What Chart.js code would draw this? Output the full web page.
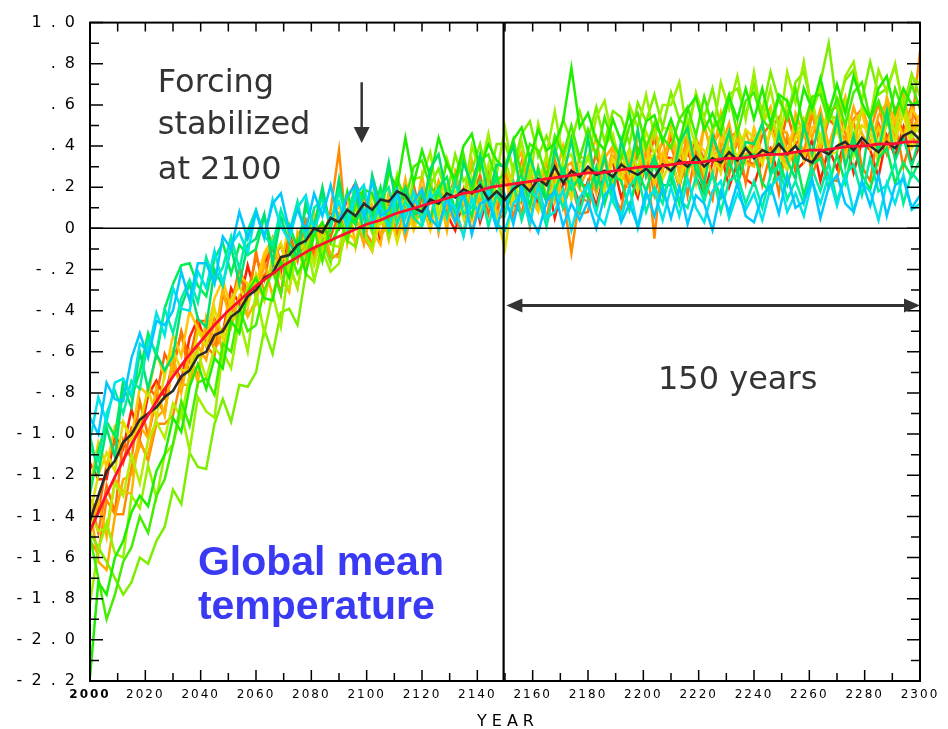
<!DOCTYPE html>
<html>
<head>
<meta charset="utf-8">
<script src="https://cdn.jsdelivr.net/npm/chart.js@4.4.1/dist/chart.umd.min.js"></script>
<style>
  html, body { margin: 0; padding: 0; background: #fff; }
  canvas { display: block; }
</style>
</head>
<body>
<canvas id="chart" width="948" height="729"></canvas>
<script>
// model years, every 3 years from 2000 to 2300 (101 values)
const years = [];
for (let y = 2000; y <= 2300; y += 3) years.push(y);

// smooth fit (red), every 5 years
const fitYears = [2000,2005,2010,2015,2020,2025,2030,2035,2040,2045,
                  2050,2055,2060,2065,2070,2075,2080,2085,2090,2095,
                  2100,2105,2110,2115,2120,2125,2130,2135,2140,2145,
                  2150,2155,2160,2165,2170,2175,2180,2185,2190,2195,
                  2200,2205,2210,2215,2220,2225,2230,2235,2240,2245,
                  2250,2255,2260,2265,2270,2275,2280,2285,2290,2295,2300];
const fitCurve = [-1.47,-1.32,-1.18,-1.05,-0.93,-0.82,-0.72,-0.63,-0.55,-0.47,
                  -0.40,-0.34,-0.28,-0.23,-0.18,-0.14,-0.10,-0.07,-0.04,-0.01,
                  0.02,0.04,0.07,0.09,0.11,0.13,0.15,0.17,0.18,0.20,
                  0.21,0.22,0.23,0.24,0.25,0.26,0.27,0.27,0.28,0.29,
                  0.30,0.30,0.31,0.32,0.32,0.33,0.34,0.34,0.35,0.36,
                  0.36,0.37,0.38,0.38,0.39,0.40,0.40,0.41,0.41,0.42,0.42];

// ensemble mean (black)
const ensembleMean = [-1.42,-1.30,-1.18,-1.13,-1.04,-1.00,-0.93,-0.90,-0.87,-0.82,
                      -0.79,-0.72,-0.69,-0.62,-0.60,-0.52,-0.50,-0.43,-0.40,-0.33,
                      -0.30,-0.24,-0.22,-0.14,-0.13,-0.08,-0.06,0.00,-0.02,0.05,
                      0.03,0.09,0.06,0.12,0.09,0.14,0.13,0.18,0.16,0.10,
                      0.08,0.14,0.12,0.17,0.15,0.19,0.17,0.21,0.14,0.18,
                      0.14,0.19,0.22,0.18,0.24,0.21,0.30,0.22,0.28,0.25,
                      0.30,0.26,0.28,0.25,0.31,0.28,0.26,0.29,0.25,0.31,
                      0.28,0.33,0.30,0.35,0.30,0.34,0.32,0.37,0.33,0.39,
                      0.34,0.38,0.36,0.41,0.36,0.40,0.34,0.32,0.38,0.36,
                      0.40,0.42,0.38,0.44,0.40,0.37,0.42,0.39,0.45,0.47,
                      0.43];

// individual runs
const run1 = [-0.92,-1.00,-0.75,-0.83,-0.84,-0.63,-0.51,-0.63,-0.45,-0.47,
              -0.40,-0.21,-0.35,-0.17,-0.17,-0.27,-0.04,-0.10,0.08,-0.05,
              0.08,-0.04,0.12,0.17,-0.01,0.09,-0.01,0.17,0.06,0.21,
              0.03,0.16,0.21,0.05,0.23,0.06,0.09,0.19,-0.01,0.13,
              0.19,0.05,0.00,0.15,0.03,0.17,-0.03,0.12,0.14,0.00,
              0.16,0.02,0.20,0.06,-0.02,0.13,0.18,0.01,0.12,0.04,
              0.13,0.00,0.16,0.21,0.03,0.12,0.01,0.18,0.06,0.20,
              0.05,0.20,0.02,0.16,0.12,-0.01,0.18,0.08,0.22,0.06,
              0.03,0.16,0.21,0.07,0.26,0.10,0.13,0.24,0.05,0.20,
              0.26,0.12,0.08,0.23,0.11,0.26,0.06,0.21,0.24,0.10,
              0.16];
const run2 = [-1.03,-0.82,-0.94,-0.75,-0.73,-0.81,-0.56,-0.60,-0.41,-0.52,
              -0.29,-0.39,-0.40,-0.21,-0.29,-0.11,-0.27,-0.08,-0.02,-0.12,
              0.08,-0.05,0.14,0.01,-0.06,0.10,0.16,-0.01,0.11,0.04,
              0.13,0.00,0.16,0.21,0.02,0.11,0.00,0.17,0.05,0.18,
              0.03,0.18,0.00,0.14,0.10,-0.04,0.15,0.05,0.19,0.02,
              -0.01,0.12,0.17,0.02,0.21,0.05,0.08,0.19,-0.01,0.15,
              0.21,0.07,0.02,0.17,0.06,0.20,0.00,0.15,0.18,0.04,
              0.20,0.06,0.24,0.10,0.03,0.18,0.23,0.05,0.17,0.09,
              0.17,0.04,0.20,0.25,0.08,0.17,0.06,0.23,0.12,0.26,
              0.11,0.26,0.08,0.22,0.18,0.04,0.22,0.12,0.26,0.09,
              0.12];
const run3 = [-1.07,-1.13,-0.90,-0.79,-0.90,-0.74,-0.78,-0.54,-0.60,-0.39,
              -0.51,-0.34,-0.25,-0.36,-0.14,-0.26,-0.19,-0.04,-0.20,-0.01,
              0.09,-0.04,-0.08,0.09,-0.02,0.13,-0.06,0.10,0.14,0.01,
              0.18,0.04,0.22,0.08,0.00,0.15,0.20,0.02,0.13,0.05,
              0.01,0.14,0.19,0.05,0.23,0.07,0.10,0.21,0.01,0.17,
              0.07,0.22,0.04,0.18,0.15,0.01,0.20,0.10,0.24,0.08,
              0.22,0.08,0.26,0.13,0.05,0.20,0.26,0.08,0.20,0.12,
              0.28,0.14,0.10,0.25,0.13,0.27,0.08,0.23,0.26,0.12,
              0.23,0.10,0.26,0.31,0.14,0.23,0.12,0.29,0.18,0.32,
              0.13,0.26,0.31,0.16,0.34,0.18,0.21,0.32,0.12,0.27,
              0.22];
const run4 = [-1.29,-1.08,-0.94,-1.01,-0.74,-0.82,-0.70,-0.51,-0.62,-0.39,
              -0.27,-0.18,-0.17,-0.28,-0.33,-0.15,-0.07,-0.22,-0.08,-0.13,
              -0.10,0.06,-0.10,0.05,0.02,-0.10,0.10,0.01,0.17,0.01,
              0.19,0.06,0.02,0.17,0.06,0.20,0.00,0.16,0.19,0.06,
              0.17,0.04,0.20,0.25,0.08,0.17,0.06,0.23,0.12,0.26,
              0.07,0.20,0.26,0.11,0.29,0.14,0.18,0.29,0.19,0.25,
              0.15,0.30,0.12,0.26,0.23,0.09,0.28,0.18,0.32,0.16,
              0.25,0.12,0.29,0.34,0.17,0.26,0.15,0.33,0.21,0.35,
              0.36,0.22,0.17,0.33,0.21,0.35,0.16,0.31,0.34,0.20,
              0.36,0.22,0.40,0.26,0.19,0.34,0.39,0.22,0.32,0.25,
              0.33];
const run5 = [-2.18,-1.72,-1.78,-1.60,-1.52,-1.38,-1.30,-1.35,-1.18,-1.10,
              -0.92,-0.99,-0.77,-0.66,-0.78,-0.63,-0.68,-0.45,-0.51,-0.31,
              -0.24,-0.34,-0.35,-0.16,-0.24,-0.06,-0.22,-0.03,0.03,-0.07,
              0.00,0.18,0.02,0.19,0.17,0.06,0.27,0.20,0.44,0.22,
              0.38,0.25,0.44,0.31,0.24,0.40,0.46,0.29,0.41,0.33,
              0.29,0.43,0.49,0.34,0.48,0.38,0.41,0.52,0.78,0.49,
              0.56,0.43,0.38,0.53,0.42,0.56,0.35,0.52,0.55,0.42,
              0.53,0.41,0.58,0.64,0.48,0.56,0.46,0.64,0.53,0.68,
              0.53,0.68,0.51,0.65,0.62,0.48,0.68,0.58,0.73,0.56,
              0.70,0.56,0.74,0.61,0.53,0.68,0.74,0.56,0.68,0.60,
              0.62];
const run6 = [-1.50,-1.70,-1.90,-1.78,-1.62,-1.55,-1.40,-1.48,-1.30,-1.22,
              -1.05,-0.84,-0.96,-0.75,-0.73,-0.81,-0.56,-0.60,-0.39,-0.50,
              -0.47,-0.30,-0.21,-0.32,-0.10,-0.22,-0.15,0.00,-0.16,0.03,
              0.05,-0.06,0.12,0.19,0.03,0.14,0.05,0.24,0.14,0.30,
              0.33,0.20,0.16,0.32,0.21,0.36,0.17,0.33,0.36,0.23,
              0.27,0.43,0.26,0.41,0.38,0.25,0.45,0.36,0.50,0.34,
              0.48,0.35,0.54,0.41,0.34,0.50,0.56,0.39,0.51,0.44,
              0.39,0.53,0.59,0.45,0.64,0.49,0.53,0.65,0.46,0.62,
              0.66,0.53,0.48,0.64,0.53,0.68,0.48,0.64,0.65,0.52,
              0.63,0.50,0.66,0.71,0.53,0.62,0.51,0.68,0.56,0.70,
              0.58];
const run7 = [-1.48,-1.55,-1.62,-1.70,-1.78,-1.72,-1.60,-1.63,-1.52,-1.45,
              -1.27,-1.34,-1.09,-1.16,-1.17,-0.95,-0.83,-0.94,-0.76,-0.77,
              -0.70,-0.49,-0.61,-0.41,-0.39,-0.47,-0.22,-0.26,-0.06,-0.17,
              0.06,-0.06,-0.09,0.08,-0.02,0.14,-0.04,0.13,0.17,0.05,
              0.06,0.21,0.29,0.16,0.36,0.23,0.28,0.41,0.23,0.41,
              0.41,0.29,0.46,0.52,0.35,0.45,0.35,0.53,0.42,0.57,
              0.43,0.59,0.42,0.57,0.54,0.41,0.61,0.52,0.65,0.49,
              0.66,0.53,0.49,0.65,0.54,0.68,0.49,0.65,0.68,0.55,
              0.70,0.57,0.76,0.62,0.55,0.71,0.76,0.59,0.71,0.90,
              0.59,0.72,0.77,0.62,0.81,0.65,0.68,0.79,0.59,0.75,
              0.64];
const run8 = [-1.39,-1.47,-1.46,-1.24,-1.30,-1.10,-1.24,-1.03,-0.94,-1.02,
              -0.85,-0.92,-0.71,-0.60,-0.73,-0.58,-0.63,-0.41,-0.47,-0.28,
              -0.24,-0.35,-0.14,-0.24,-0.29,-0.11,-0.03,-0.18,-0.03,-0.08,
              -0.09,0.05,0.11,-0.02,0.17,0.02,0.06,0.18,-0.01,0.16,
              0.07,0.23,0.06,0.21,0.18,0.05,0.25,0.16,0.31,0.15,
              0.33,0.20,0.16,0.32,0.21,0.36,0.17,0.33,0.36,0.23,
              0.35,0.23,0.40,0.46,0.29,0.39,0.29,0.47,0.36,0.49,
              0.48,0.35,0.53,0.40,0.32,0.48,0.54,0.37,0.48,0.40,
              0.37,0.51,0.57,0.43,0.62,0.47,0.51,0.63,0.43,0.59,
              0.47,0.62,0.44,0.58,0.54,0.40,0.57,0.47,0.61,0.44,
              0.50];
const run9 = [-1.39,-1.20,-1.09,-1.18,-0.94,-1.04,-0.95,-0.78,-0.92,-0.71,
              -0.59,-0.69,-0.69,-0.50,-0.57,-0.39,-0.54,-0.35,-0.28,-0.38,
              -0.22,-0.33,-0.14,-0.07,-0.23,-0.11,-0.20,-0.01,-0.11,0.06,
              0.06,-0.07,0.12,-0.02,-0.11,0.05,0.10,-0.07,0.08,0.00,
              0.01,0.17,-0.01,0.14,0.10,-0.03,0.17,0.08,0.22,0.06,
              -0.10,0.17,0.23,0.10,0.30,0.16,0.20,0.32,0.14,0.30,
              0.35,0.22,0.18,0.34,0.23,0.37,0.18,0.33,0.36,0.24,
              0.33,0.21,0.38,0.44,0.27,0.37,0.27,0.45,0.34,0.48,
              0.44,0.31,0.49,0.36,0.28,0.44,0.50,0.33,0.44,0.36,
              0.37,0.52,0.35,0.50,0.47,0.32,0.52,0.42,0.56,0.39,
              0.46];
const run10 = [-1.25,-1.04,-1.16,-0.96,-0.94,-1.02,-0.77,-0.81,-0.61,-0.72,
               -0.52,-0.62,-0.40,-0.49,-0.53,-0.34,-0.25,-0.39,-0.23,-0.27,
               -0.27,-0.12,-0.05,-0.18,0.02,-0.12,-0.07,0.06,-0.12,0.03,
               0.11,-0.02,-0.06,0.09,-0.02,0.13,-0.06,0.10,0.13,-0.01,
               0.11,-0.01,0.16,0.21,0.04,0.14,0.04,0.22,0.11,0.25,
               0.24,0.11,0.30,0.16,0.08,0.24,0.30,0.13,0.26,0.19,
               0.15,0.29,0.35,0.21,0.40,0.25,0.29,0.41,0.21,0.37,
               0.27,0.43,0.26,0.41,0.38,0.25,0.45,0.36,0.50,0.32,
               0.49,0.36,0.32,0.48,0.37,0.52,0.33,0.49,0.52,0.39,
               0.48,0.35,0.52,0.57,0.39,0.49,0.38,0.56,0.44,0.58,
               0.52];
const run11 = [-1.35,-1.62,-1.66,-1.40,-1.22,-1.20,-1.05,-1.10,-0.92,-0.88,
               -0.67,-0.76,-0.76,-0.57,-0.64,-0.45,-0.60,-0.40,-0.34,-0.43,
               -0.35,-0.17,-0.33,-0.16,-0.18,-0.29,-0.08,-0.15,0.01,-0.13,
               -0.14,0.00,0.06,-0.08,0.11,-0.03,0.01,0.13,-0.05,0.11,
               0.18,0.05,0.23,0.10,0.03,0.18,0.24,0.07,0.19,0.12,
               0.29,0.16,0.12,0.28,0.17,0.32,0.13,0.29,0.32,0.20,
               0.29,0.17,0.34,0.40,0.23,0.33,0.23,0.41,0.30,0.43,
               0.25,0.39,0.45,0.31,0.50,0.35,0.39,0.51,0.31,0.47,
               0.35,0.51,0.34,0.49,0.46,0.33,0.53,0.44,0.58,0.40,
               0.54,0.41,0.59,0.46,0.39,0.55,0.61,0.44,0.56,0.48,
               0.55];
const run12 = [-1.52,-1.58,-1.32,-1.39,-1.39,-1.16,-1.03,-1.13,-0.95,-0.95,
               -0.91,-0.73,-0.62,-0.72,-0.48,-0.59,-0.51,-0.34,-0.49,-0.28,
               -0.25,-0.35,-0.16,-0.08,-0.23,-0.11,-0.19,0.01,-0.08,0.09,
               0.38,-0.07,0.11,-0.01,-0.07,0.08,0.13,-0.03,0.10,0.02,
               0.19,0.05,0.01,0.16,0.04,0.19,-0.02,0.15,0.18,0.04,
               0.07,0.23,0.06,0.21,0.18,0.05,0.25,0.16,-0.12,0.15,
               0.13,0.27,0.33,0.18,0.38,0.23,0.27,0.39,-0.05,0.35,
               0.40,0.27,0.46,0.33,0.25,0.41,0.47,0.30,0.42,0.35,
               0.43,0.31,0.48,0.54,0.37,0.47,0.37,0.55,0.44,0.57,
               0.59,0.46,0.42,0.58,0.47,0.61,0.41,0.57,0.62,0.50,
               0.86];
const run13 = [-1.32,-1.38,-1.15,-1.03,-1.14,-0.97,-1.01,-0.77,-0.82,-0.61,
               -0.69,-0.50,-0.64,-0.45,-0.45,-0.55,-0.32,-0.38,-0.19,-0.32,
               -0.14,-0.25,-0.05,-0.16,-0.22,-0.04,0.04,-0.12,0.02,-0.04,
               0.07,-0.02,0.11,0.17,0.00,0.11,0.01,0.19,0.08,0.21,
               0.03,0.16,0.22,0.08,0.27,0.11,0.15,0.26,0.07,0.23,
               0.26,0.13,0.32,0.18,0.10,0.26,0.32,0.15,0.28,0.21,
               0.21,0.37,0.20,0.35,0.32,0.19,0.39,0.30,0.44,0.28,
               0.45,0.32,0.28,0.44,0.33,0.48,0.28,0.44,0.47,0.33,
               0.31,0.45,0.51,0.37,0.56,0.41,0.45,0.57,0.37,0.53,
               0.49,0.36,0.53,0.58,0.41,0.51,0.40,0.58,0.46,0.60,
               0.46];
const run14 = [-1.14,-1.22,-1.22,-1.01,-1.07,-0.88,-1.02,-0.81,-0.74,-0.82,
               -0.65,-0.74,-0.53,-0.44,-0.57,-0.44,-0.51,-0.29,-0.37,-0.18,
               -0.33,-0.17,-0.09,-0.21,0.00,-0.13,-0.07,0.07,-0.10,0.07,
               0.00,0.15,0.22,0.12,0.08,-0.06,0.13,0.04,0.19,0.02,
               0.16,0.03,0.21,0.07,-0.01,0.14,0.20,0.03,0.16,0.08,
               0.25,0.12,0.07,0.23,0.12,0.26,0.05,0.21,0.24,0.11,
               0.23,0.11,0.27,0.32,0.15,0.25,0.15,0.33,0.22,0.35,
               0.34,0.20,0.38,0.25,0.17,0.32,0.37,0.20,0.32,0.24,
               0.21,0.34,0.39,0.25,0.44,0.28,0.32,0.43,0.23,0.39,
               0.29,0.44,0.27,0.42,0.38,0.25,0.45,0.35,0.49,0.32,
               0.40];
const run15 = [-1.01,-1.19,-0.97,-1.11,-0.77,-0.87,-0.60,-0.78,-0.61,-0.69,
               -0.62,-0.38,-0.27,-0.44,-0.48,-0.20,-0.28,-0.09,-0.27,-0.08,
               -0.05,0.07,-0.17,0.05,-0.07,-0.14,0.13,0.01,0.20,0.00,
               0.24,0.01,0.17,-0.02,0.26,0.11,0.32,0.09,0.20,0.07,
               0.08,0.29,0.36,0.16,0.08,0.32,0.21,0.36,0.15,0.31,
               0.30,0.40,0.15,0.35,0.22,0.13,0.39,0.25,0.43,0.21,
               0.44,0.20,0.35,0.16,0.43,0.28,0.48,0.25,0.35,0.21,
               0.21,0.41,0.49,0.28,0.21,0.45,0.34,0.47,0.26,0.42,
               0.41,0.51,0.26,0.46,0.33,0.24,0.50,0.36,0.54,0.32,
               0.54,0.30,0.45,0.25,0.53,0.37,0.57,0.33,0.44,0.30,
               0.45];
const run16 = [-1.82,-1.56,-1.43,-1.58,-1.60,-1.30,-1.36,-1.15,-1.31,-1.10,
               -1.05,-0.89,-1.08,-0.82,-0.89,-0.92,-0.60,-0.68,-0.44,-0.60,
               -0.31,-0.51,-0.32,-0.48,-0.17,-0.29,-0.05,-0.25,-0.11,-0.21,
               -0.17,0.05,0.15,-0.03,-0.09,0.18,0.08,0.26,0.06,0.24,
               0.25,0.37,0.12,0.34,0.21,0.14,0.40,0.28,0.46,0.26,
               0.49,0.26,0.42,0.23,0.51,0.36,0.57,0.34,0.45,0.32,
               0.33,0.54,0.62,0.42,0.35,0.60,0.49,0.65,0.44,0.60,
               0.60,0.71,0.45,0.66,0.53,0.45,0.71,0.58,0.74,0.53,
               0.76,0.52,0.68,0.48,0.76,0.61,0.81,0.57,0.68,0.54,
               0.54,0.74,0.81,0.60,0.53,0.77,0.66,0.80,0.58,0.74,
               0.70];
const run17 = [-1.50,-1.32,-1.50,-1.22,-1.28,-1.29,-0.96,-1.02,-0.77,-0.91,
               -0.61,-0.80,-0.60,-0.75,-0.43,-0.54,-0.29,-0.48,-0.33,-0.42,
               -0.37,-0.15,-0.05,-0.24,-0.31,-0.02,-0.12,0.07,-0.13,0.04,
               0.05,0.16,-0.09,0.12,-0.01,-0.08,0.18,0.05,0.24,0.03,
               0.26,0.03,0.19,-0.01,0.27,0.12,0.33,0.10,0.21,0.08,
               0.08,0.29,0.37,0.17,0.10,0.35,0.24,0.40,0.19,0.35,
               0.33,0.44,0.19,0.40,0.27,0.19,0.45,0.32,0.50,0.29,
               0.49,0.26,0.42,0.22,0.50,0.35,0.56,0.33,0.44,0.32,
               0.30,0.51,0.59,0.38,0.31,0.56,0.45,0.60,0.39,0.55,
               0.53,0.64,0.38,0.59,0.46,0.38,0.64,0.51,0.66,0.44,
               0.55];
const run18 = [-1.31,-1.48,-1.25,-1.38,-1.03,-1.12,-0.84,-1.01,-0.83,-0.90,
               -0.65,-0.51,-0.72,-0.48,-0.57,-0.62,-0.32,-0.42,-0.20,-0.38,
               -0.11,-0.33,-0.15,-0.32,-0.04,-0.16,0.03,-0.15,0.00,-0.15,
               -0.12,0.09,0.17,-0.04,-0.11,0.14,0.03,0.17,-0.03,0.13,
               0.13,0.24,-0.02,0.18,0.05,-0.03,0.23,0.09,0.27,0.05,
               0.28,0.05,0.21,0.01,0.29,0.13,0.34,0.10,0.22,0.07,
               0.08,0.29,0.37,0.16,0.09,0.33,0.22,0.38,0.16,0.31,
               0.31,0.42,0.16,0.37,0.23,0.14,0.40,0.26,0.44,0.22,
               0.44,0.21,0.37,0.17,0.45,0.29,0.49,0.26,0.37,0.24,
               0.23,0.44,0.52,0.30,0.23,0.48,0.36,0.51,0.30,0.45,
               0.38];

const ensemble = [run1, run2, run3, run15, run4, run5, run6, run16, run7,
                  run8, run9, run10, run17, run11, run12, run18, run13, run14];
const runColors = ['#00c8ff','#00e4e8','#00eea0','#00e070','#00ee55','#20ee00','#44ee00','#99f000','#7cee00',
                   '#b4ee00','#e0e000','#ffc800','#ffb400','#ffa800','#ff8c00','#ff7800','#ff6400','#ff2000'];

// axis ticks
const xTicks = [2000,2020,2040,2060,2080,2100,2120,2140,2160,2180,2200,2220,2240,2260,2280,2300];
const yTicks = [1.0,0.8,0.6,0.4,0.2,0,-0.2,-0.4,-0.6,-0.8,-1.0,-1.2,-1.4,-1.6,-1.8,-2.0,-2.2];
const yTickLabels = ['1 . 0','. 8','. 6','. 4','. 2','0','- . 2','- . 4','- . 6','- . 8',
                     '- 1 . 0','- 1 . 2','- 1 . 4','- 1 . 6','- 1 . 8','- 2 . 0','- 2 . 2'];

const toXY = (xs, arr) => arr.map((v, i) => ({ x: xs[i], y: v }));

const datasets = [
  { data: toXY(fitYears, fitCurve), borderColor: '#ff1030', borderWidth: 2.8 },
  { data: toXY(years, ensembleMean), borderColor: '#2b2b2b', borderWidth: 2.6 }
];
ensemble.forEach((run, i) => {
  datasets.push({ data: toXY(years, run), borderColor: runColors[i], borderWidth: 2.5 });
});
datasets.forEach(d => { d.pointRadius = 0; d.tension = 0; d.fill = false; });

function arrowHead(ctx, tipX, tipY, dx, dy, len, half) {
  // dx,dy: unit direction of the arrow
  const bx = tipX - dx * len, by = tipY - dy * len;
  ctx.beginPath();
  ctx.moveTo(tipX, tipY);
  ctx.lineTo(bx - dy * half, by + dx * half);
  ctx.lineTo(bx + dy * half, by - dx * half);
  ctx.closePath();
  ctx.fill();
}

// frame, inner ticks, reference lines and text
const overlay = {
  id: 'overlay',
  beforeDraw(chart) { chart.ctx.letterSpacing = '2px'; },
  beforeDatasetsDraw(chart) { chart.ctx.letterSpacing = '0px'; },
  afterDatasetsDraw(chart) {
    const ctx = chart.ctx;
    const { left, right, top, bottom } = chart.chartArea;
    const xs = chart.scales.x, ys = chart.scales.y;
    ctx.save();
    ctx.letterSpacing = '0px';
    ctx.strokeStyle = '#000';

    // zero line
    ctx.lineWidth = 1.5;
    ctx.beginPath();
    ctx.moveTo(left, ys.getPixelForValue(0));
    ctx.lineTo(right, ys.getPixelForValue(0));
    ctx.stroke();

    // 2150 line
    ctx.lineWidth = 2.2;
    const x2150 = xs.getPixelForValue(2149.5);
    ctx.beginPath();
    ctx.moveTo(x2150, top);
    ctx.lineTo(x2150, bottom);
    ctx.stroke();

    // ticks
    ctx.lineWidth = 1.5;
    for (let k = -22; k <= 10; k++) {
      const py = ys.getPixelForValue(k / 10);
      const len = (k % 2 === 0) ? 13 : 9;
      ctx.beginPath();
      ctx.moveTo(left, py); ctx.lineTo(left + len, py);
      ctx.moveTo(right, py); ctx.lineTo(right - len, py);
      ctx.stroke();
    }
    for (let yr = 2000; yr <= 2300; yr += 10) {
      const px = xs.getPixelForValue(yr);
      const len = (yr % 20 === 0) ? 11 : 8;
      ctx.beginPath();
      ctx.moveTo(px, bottom); ctx.lineTo(px, bottom - len);
      ctx.moveTo(px, top); ctx.lineTo(px, top + 9);
      ctx.stroke();
    }

    // frame
    ctx.lineWidth = 2;
    ctx.strokeRect(left, top, right - left, bottom - top);

    // down arrow at 2100
    ctx.strokeStyle = '#333';
    ctx.fillStyle = '#333';
    ctx.lineWidth = 2.5;
    const ax = xs.getPixelForValue(2098.2);
    const aTop = ys.getPixelForValue(0.71), aTip = ys.getPixelForValue(0.415);
    ctx.beginPath();
    ctx.moveTo(ax, aTop); ctx.lineTo(ax, aTip - 10);
    ctx.stroke();
    arrowHead(ctx, ax, aTip, 0, 1, 16, 8);

    // 150 years double arrow
    const dy = ys.getPixelForValue(-0.375);
    const dx0 = xs.getPixelForValue(2150.5), dx1 = xs.getPixelForValue(2300);
    ctx.lineWidth = 3;
    ctx.beginPath();
    ctx.moveTo(dx0 + 8, dy); ctx.lineTo(dx1 - 8, dy);
    ctx.stroke();
    arrowHead(ctx, dx0, dy, -1, 0, 16, 7);
    arrowHead(ctx, dx1, dy, 1, 0, 16, 7);

    // text
    ctx.textAlign = 'left';
    ctx.textBaseline = 'alphabetic';
    ctx.font = '32px "DejaVu Sans"';
    ctx.fillStyle = '#333';
    const tx = xs.getPixelForValue(2024.5);
    ctx.fillText('Forcing', tx, ys.getPixelForValue(0.664));
    ctx.fillText('stabilized', tx, ys.getPixelForValue(0.457));
    ctx.fillText('at 2100', tx, ys.getPixelForValue(0.24));
    ctx.fillText('150 years', xs.getPixelForValue(2205.3), ys.getPixelForValue(-0.78));

    ctx.font = 'bold 41px "Liberation Sans"';
    ctx.fillStyle = '#3a3af5';
    const bx = xs.getPixelForValue(2039);
    ctx.fillText('Global mean', bx, ys.getPixelForValue(-1.684));
    ctx.fillText('temperature', bx, ys.getPixelForValue(-1.90));

    // axis title
    ctx.font = '16px "DejaVu Sans"';
    ctx.fillStyle = '#000';
    ctx.letterSpacing = '5px';
    ctx.textAlign = 'center';
    ctx.fillText('YEAR', (left + right) / 2 + 3, 726);
    ctx.restore();
  }
};

new Chart(document.getElementById('chart'), {
  type: 'line',
  data: { datasets: datasets },
  options: {
    responsive: false,
    animation: false,
    layout: { padding: { top: 16, right: 28, left: 0, bottom: 0 } },
    plugins: { legend: { display: false }, tooltip: { enabled: false } },
    scales: {
      x: {
        type: 'linear',
        min: 2000,
        max: 2300,
        afterBuildTicks: (s) => { s.ticks = xTicks.map(v => ({ value: v })); },
        afterFit: (s) => { s.height = 48; },
        grid: { display: false, drawTicks: false },
        border: { display: false },
        ticks: {
          padding: 7,
          color: '#000',
          maxRotation: 0,
          autoSkip: false,
          callback: (v) => String(v),
          font: (c) => ({ family: 'DejaVu Sans', size: 12, weight: (c.tick && c.tick.value === 2000) ? 'bold' : 'normal' })
        }
      },
      y: {
        type: 'linear',
        min: -2.2,
        max: 1.0,
        afterBuildTicks: (s) => { s.ticks = yTicks.map(v => ({ value: v })); },
        afterFit: (s) => { s.width = 90; },
        grid: { display: false, drawTicks: false },
        border: { display: false },
        ticks: {
          padding: 13,
          color: '#000',
          autoSkip: false,
          callback: (v, i) => yTickLabels[i],
          font: { family: 'DejaVu Sans', size: 16 }
        }
      }
    }
  },
  plugins: [overlay]
});
</script>
</body>
</html>
